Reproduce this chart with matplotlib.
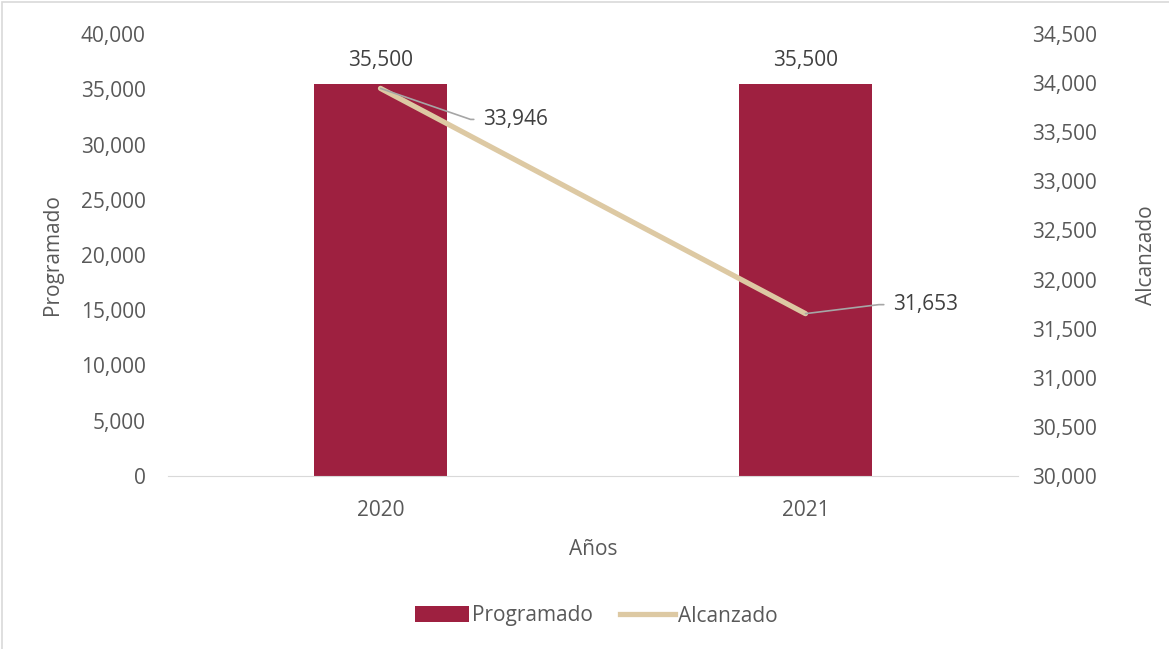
import matplotlib.pyplot as plt
from matplotlib.patches import Rectangle, Patch
from matplotlib.lines import Line2D
from matplotlib.ticker import FuncFormatter

# --- data ---
years = ['2020', '2021']
programado = [35500, 35500]
alcanzado = [33946, 31653]

bar_color = '#9E2040'
line_color = '#DDC9A3'
text_color = '#595959'

plt.rcParams['font.family'] = ['Open Sans', 'DejaVu Sans']

fig = plt.figure(figsize=(11.69, 6.49), dpi=100)
ax = fig.add_axes([168 / 1169, 1 - 476 / 649, (1018 - 168) / 1169, (476 - 34) / 649])
ax2 = ax.twinx()

x = list(range(len(years)))
bars = ax.bar(x, programado, width=0.315, color=bar_color, zorder=2)
ax.set_xlim(-0.5, 1.5)
ax.set_ylim(0, 40000)
ax.set_yticks(range(0, 40001, 5000))
ax.set_xticks(x)
ax.set_xticklabels(years)

ax2.plot(x, alcanzado, color=line_color, lw=3.8, solid_capstyle='round', zorder=3)
ax2.set_ylim(30000, 34500)
ax2.set_yticks(range(30000, 34501, 500))

fmt = FuncFormatter(lambda v, _: '{:,.0f}'.format(v))
ax.yaxis.set_major_formatter(fmt)
ax2.yaxis.set_major_formatter(fmt)

for a in (ax, ax2):
    for s in a.spines.values():
        s.set_visible(False)
    a.tick_params(length=0, labelsize=15, colors=text_color)
ax.spines['bottom'].set_visible(True)
ax.spines['bottom'].set_color('#D9D9D9')
ax.tick_params(axis='y', pad=16)
ax.tick_params(axis='x', pad=17)
ax2.tick_params(axis='y', pad=10)

ax.set_xlabel('Años', fontsize=15, color=text_color, labelpad=13)
ax.set_ylabel('Programado', fontsize=15, color=text_color, labelpad=13)
ax2.set_ylabel('Alcanzado', fontsize=15, color=text_color, labelpad=28)

# bar labels
for xi, v in zip(x, programado):
    ax.annotate('{:,}'.format(v), (xi, v), xytext=(0, 9), textcoords='offset points',
                ha='center', va='bottom', fontsize=15, color='#404040')

# line labels with leader lines (offsets in pixels, angle of the leader at the point)
offsets = [(103, -31), (88, 9)]
leader_angles = [-19, 7]
for xi, v, off, ang in zip(x, alcanzado, offsets, leader_angles):
    ax2.annotate('{:,}'.format(v), (xi, v), xytext=off, textcoords='offset pixels',
                 ha='left', va='center', fontsize=15, color='#404040',
                 arrowprops=dict(arrowstyle='-', color='#A6A6A6', lw=1.2,
                                 relpos=(0, 0.5), shrinkA=5, shrinkB=0,
                                 connectionstyle='angle,angleA=0,angleB=%d,rad=0' % ang))

# legend
handles = [Patch(facecolor=bar_color, edgecolor='none'),
           Line2D([0], [0], color=line_color, lw=3.8)]
fig.legend(handles, ['Programado', 'Alcanzado'], loc='center', ncol=2,
           bbox_to_anchor=(0.51, 1 - 616 / 649), frameon=False, fontsize=15,
           labelcolor=text_color, handlelength=2.6, handleheight=0.8,
           handletextpad=0.15, columnspacing=1.3)

# outer frame
fig.patches.append(Rectangle((2 / 1169, -0.01), 1.02, 1 - 2 / 649 + 0.01,
                             transform=fig.transFigure, fill=False,
                             edgecolor='#D9D9D9', lw=1.2))

fig.savefig('out.png', dpi=100)
